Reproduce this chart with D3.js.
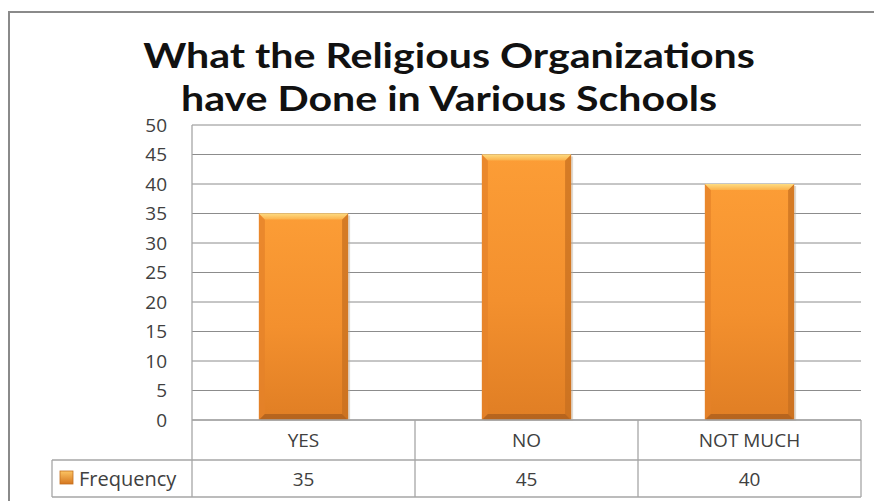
<!DOCTYPE html>
<html>
<head>
<meta charset="utf-8">
<script src="https://cdn.jsdelivr.net/npm/d3@7"></script>
<style>
  body { margin: 0; background: #fff; }
  text { font-family: "Open Sans", sans-serif; }
</style>
</head>
<body>
<div id="chart"></div>
<script>
const categories = ['YES', 'NO', 'NOT MUCH'];
const frequency = [35, 45, 40];
const yTicks = [0, 5, 10, 15, 20, 25, 30, 35, 40, 45, 50];
const seriesName = 'Frequency';
const titleLines = ['What the Religious Organizations', 'have Done in Various Schools'];

const dims = {width: 874, height: 501};
const plot = {left: 192, right: 861, top: 125, bottom: 420};
const rowH = {cat: 40, val: 37};
const legendLeft = 52;
const titleWidth = 612;
const gridColor = '#8c8c8c';
const cellColor = '#a6a6a6';

const svg = d3.select('#chart')
    .append('svg')
    .attr('width', dims.width)
    .attr('height', dims.height);

const defs = svg.append('defs');

const face = defs.append('linearGradient')
    .attr('id', 'face').attr('x1', 0).attr('x2', 0).attr('y1', 0).attr('y2', 1);
face.append('stop').attr('offset', '0%').attr('stop-color', '#fc9d36');
face.append('stop').attr('offset', '55%').attr('stop-color', '#f3902e');
face.append('stop').attr('offset', '100%').attr('stop-color', '#e07e24');

const topGrad = defs.append('linearGradient')
    .attr('id', 'topGrad').attr('x1', 0).attr('x2', 0).attr('y1', 0).attr('y2', 1);
topGrad.append('stop').attr('offset', '0%').attr('stop-color', '#fddc82');
topGrad.append('stop').attr('offset', '100%').attr('stop-color', '#fcb14b');

const legendGrad = defs.append('linearGradient')
    .attr('id', 'legendGrad').attr('x1', 0).attr('x2', 0).attr('y1', 0).attr('y2', 1);
legendGrad.append('stop').attr('offset', '0%').attr('stop-color', '#fcc463');
legendGrad.append('stop').attr('offset', '100%').attr('stop-color', '#d5761f');

// outer chart border
svg.append('path')
    .attr('d', `M9,${dims.height + 5} V12 H${dims.width + 5}`)
    .attr('fill', 'none')
    .attr('stroke', '#8a8a8a')
    .attr('stroke-width', 2);

// title: Lato bold, stretched sideways to the width of the original
const title = svg.append('g');
const titleText = title.selectAll('text')
    .data(titleLines)
    .enter()
    .append('text')
        .attr('x', 0)
        .attr('y', (d, i) => 68 + i * 43)
        .attr('text-anchor', 'middle')
        .style('font-family', 'Lato, sans-serif')
        .attr('font-size', 35)
        .attr('font-weight', 700)
        .attr('fill', '#111')
        .text(d => d);
const widest = titleText.nodes()[0].getComputedTextLength();
title.attr('transform', `translate(449, 0) scale(${titleWidth / widest}, 1)`);

const x = d3.scaleBand()
    .domain(categories)
    .range([plot.left, plot.right])
    .paddingInner(0.6)
    .paddingOuter(0.3);

const xCell = d3.scaleBand()
    .domain(categories)
    .range([plot.left, plot.right]);

const y = d3.scaleLinear()
    .domain([0, 50])
    .range([plot.bottom, plot.top]);

// gridlines
svg.append('g')
    .selectAll('line')
    .data(yTicks)
    .enter()
    .append('line')
        .attr('x1', plot.left)
        .attr('x2', plot.right)
        .attr('y1', d => y(d))
        .attr('y2', d => y(d))
        .attr('stroke', gridColor)
        .attr('stroke-width', 1);

// y axis labels
const yAxis = d3.axisLeft(y)
    .tickValues(yTicks)
    .tickSize(0)
    .tickPadding(25);

svg.append('g')
    .attr('transform', `translate(${plot.left}, 0)`)
    .call(yAxis)
    .call(g => g.select('.domain').remove())
    .selectAll('text')
        .attr('font-size', 19)
        .attr('font-family', '"Open Sans", sans-serif')
        .attr('fill', '#404040');

// bars
const bars = svg.append('g')
    .selectAll('g')
    .data(frequency)
    .enter()
    .append('g');

const bevel = 6;

// soft shadow
bars.append('rect')
    .attr('x', (d, i) => x(categories[i]) + 2)
    .attr('y', d => y(d) + 2)
    .attr('width', x.bandwidth())
    .attr('height', d => y(0) - y(d) - 1)
    .attr('fill', '#b8aa98')
    .attr('opacity', 0.45);

bars.append('rect')
    .attr('x', (d, i) => x(categories[i]))
    .attr('y', d => y(d))
    .attr('width', x.bandwidth())
    .attr('height', d => y(0) - y(d))
    .attr('fill', 'url(#face)');

// left side bevel
bars.append('path')
    .attr('d', (d, i) => {
        const x0 = x(categories[i]), y0 = y(d), y1 = y(0);
        return `M${x0},${y0} L${x0 + bevel},${y0 + bevel} L${x0 + bevel},${y1 - bevel} L${x0},${y1} Z`;
    })
    .attr('fill', '#e4822a')
    .attr('opacity', 0.75);

// right side bevel
bars.append('path')
    .attr('d', (d, i) => {
        const x1 = x(categories[i]) + x.bandwidth(), y0 = y(d), y1 = y(0);
        return `M${x1},${y0} L${x1 - bevel},${y0 + bevel} L${x1 - bevel},${y1 - bevel} L${x1},${y1} Z`;
    })
    .attr('fill', '#c56d20')
    .attr('opacity', 0.7);

// bottom bevel
bars.append('path')
    .attr('d', (d, i) => {
        const x0 = x(categories[i]), x1 = x0 + x.bandwidth(), y1 = y(0);
        return `M${x0},${y1} L${x0 + bevel},${y1 - bevel} L${x1 - bevel},${y1 - bevel} L${x1},${y1} Z`;
    })
    .attr('fill', '#a85c1c')
    .attr('opacity', 0.75);

// top bevel
bars.append('path')
    .attr('d', (d, i) => {
        const x0 = x(categories[i]), x1 = x0 + x.bandwidth(), y0 = y(d);
        return `M${x0},${y0} L${x1},${y0} L${x1 - bevel},${y0 + bevel} L${x0 + bevel},${y0 + bevel} Z`;
    })
    .attr('fill', 'url(#topGrad)');

// data table lines
const tableTop = plot.bottom;
const rowMid = tableTop + rowH.cat;
const tableBottom = rowMid + rowH.val;
const table = svg.append('g').attr('stroke', cellColor).attr('stroke-width', 1.3);

table.append('line')
    .attr('x1', plot.left).attr('x2', plot.right)
    .attr('y1', tableTop).attr('y2', tableTop);
table.append('line')
    .attr('x1', legendLeft).attr('x2', plot.right)
    .attr('y1', rowMid).attr('y2', rowMid);
table.append('line')
    .attr('x1', legendLeft).attr('x2', plot.right)
    .attr('y1', tableBottom).attr('y2', tableBottom);
table.append('line')
    .attr('x1', legendLeft).attr('x2', legendLeft)
    .attr('y1', rowMid).attr('y2', tableBottom);
table.append('line')
    .attr('x1', plot.left).attr('x2', plot.left)
    .attr('y1', plot.top).attr('y2', tableBottom);

table.selectAll('.sep')
    .data(categories)
    .enter()
    .append('line')
        .attr('class', 'sep')
        .attr('x1', d => xCell(d) + xCell.bandwidth())
        .attr('x2', d => xCell(d) + xCell.bandwidth())
        .attr('y1', tableTop)
        .attr('y2', tableBottom);

// category labels
svg.append('g')
    .selectAll('text')
    .data(categories)
    .enter()
    .append('text')
        .attr('x', d => xCell(d) + xCell.bandwidth() / 2)
        .attr('y', tableTop + rowH.cat / 2 + 7)
        .attr('text-anchor', 'middle')
        .attr('font-size', 19)
        .attr('fill', '#404040')
        .text(d => d);

// values row
svg.append('g')
    .selectAll('text')
    .data(frequency)
    .enter()
    .append('text')
        .attr('x', (d, i) => xCell(categories[i]) + xCell.bandwidth() / 2)
        .attr('y', rowMid + rowH.val / 2 + 7)
        .attr('text-anchor', 'middle')
        .attr('font-size', 19)
        .attr('fill', '#404040')
        .text(d => d);

// legend key
svg.append('rect')
    .attr('x', legendLeft + 8)
    .attr('y', rowMid + 11)
    .attr('width', 13)
    .attr('height', 13)
    .attr('fill', 'url(#legendGrad)')
    .attr('stroke', '#c46f1f')
    .attr('stroke-width', 0.8);

svg.append('text')
    .attr('x', legendLeft + 27)
    .attr('y', rowMid + rowH.val / 2 + 7)
    .attr('font-size', 20)
    .attr('fill', '#404040')
    .text(seriesName);
</script>
</body>
</html>
